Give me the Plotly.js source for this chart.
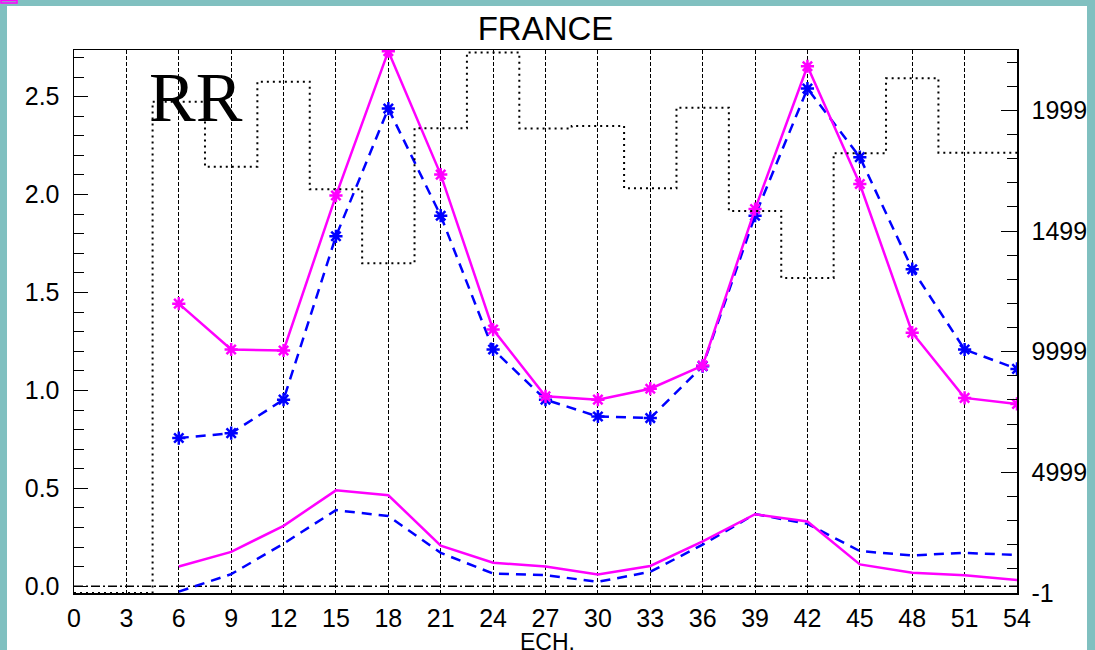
<!DOCTYPE html>
<html>
<head>
<meta charset="utf-8">
<script src="https://cdn.plot.ly/plotly-3.0.1.min.js"></script>
<style>html,body{margin:0;padding:0;background:#fff;}#chart{width:1095px;height:650px;}</style>
</head>
<body>
<div id="chart"></div>
<script>
// ---- data ----
const hours = [6, 9, 12, 15, 18, 21, 24, 27, 30, 33, 36, 39, 42, 45, 48, 51, 54];
const pinkUpper = [1.443, 1.209, 1.204, 1.995, 2.732, 2.102, 1.311, 0.970, 0.953, 1.009, 1.127, 1.926, 2.655, 2.054, 1.295, 0.962, 0.931];
const blueUpper = [0.757, 0.782, 0.953, 1.787, 2.439, 1.892, 1.209, 0.953, 0.867, 0.859, 1.124, 1.892, 2.541, 2.191, 1.619, 1.209, 1.110];
const pinkLower = [0.101, 0.176, 0.309, 0.490, 0.465, 0.208, 0.121, 0.101, 0.060, 0.104, 0.230, 0.368, 0.331, 0.112, 0.070, 0.057, 0.032];
const blueLower = [-0.027, 0.062, 0.218, 0.389, 0.359, 0.171, 0.065, 0.057, 0.023, 0.074, 0.213, 0.369, 0.319, 0.180, 0.158, 0.171, 0.160];
const countHours = [0, 3, 6, 9, 12, 15, 18, 21, 24, 27, 30, 33, 36, 39, 42, 45, 48, 51, 54];
const counts = [0, 0, 20358, 17667, 21186, 16731, 13666, 19257, 22400, 19250, 19350, 16772, 20110, 15832, 13057, 18221, 21327, 18246, 18246];
const zeroX = [0, 54];
const zeroY = [0, 0];
const xTicks = [0, 3, 6, 9, 12, 15, 18, 21, 24, 27, 30, 33, 36, 39, 42, 45, 48, 51, 54];
const rightTickVals = [-1, 4999, 9999, 14999, 19999];
const rightTickLabels = ['-1', '4999', '9999', '14999', '19999'];
const titleText = 'FRANCE';
const xTitle = 'ECH.';
const legendText = 'RR';

const PINK = '#ff00ff', BLUE = '#0000ff', TEAL = '#80c0c0';
const FONT = 'Liberation Sans, Arial, sans-serif';
const TICKSIZE = 25;

const traces = [
  {x: countHours, y: counts, yaxis: 'y2', mode: 'lines', line: {shape: 'hvh', color: '#000', width: 2, dash: '2px,4px'}, hoverinfo: 'skip'},
  {x: zeroX, y: zeroY, mode: 'lines', line: {color: '#000', width: 1.5, dash: '9px,3px,2px,3px'}, hoverinfo: 'skip'},
  {x: hours, y: blueLower, mode: 'lines', line: {color: BLUE, width: 2.5, dash: '10px,7px'}},
  {x: hours, y: pinkLower, mode: 'lines', line: {color: PINK, width: 2.5}},
  {x: hours, y: blueUpper, mode: 'lines+markers', line: {color: BLUE, width: 2.5, dash: '10px,7px'},
   marker: {symbol: 'asterisk-open', size: 11, line: {color: BLUE, width: 2.5}}},
  {x: hours, y: pinkUpper, mode: 'lines+markers', line: {color: PINK, width: 2.5},
   marker: {symbol: 'asterisk-open', size: 11, line: {color: PINK, width: 2.5}}}
];

const layout = {
  width: 1095, height: 650,
  margin: {l: 74, r: 78, t: 50, b: 57},
  paper_bgcolor: '#fff', plot_bgcolor: '#fff',
  showlegend: false,
  font: {family: FONT, size: TICKSIZE, color: '#000'},
  title: {text: titleText, font: {family: FONT, size: 33, color: '#000'}, x: 0.5, xref: 'paper', xanchor: 'center', y: 0.956, yref: 'container', yanchor: 'middle'},
  xaxis: {
    range: [0, 54], tickmode: 'array', tickvals: xTicks,
    showgrid: true, gridcolor: '#000', gridwidth: 1, griddash: '4px,2px',
    zeroline: false, showline: true, linecolor: '#000', linewidth: 1.5, mirror: true,
    ticks: '', ticklabelstandoff: 2,
    tickfont: {family: FONT, size: TICKSIZE, color: '#000'}
  },
  yaxis: {
    range: [-0.034, 2.738], tickmode: 'linear', tick0: 0, dtick: 0.5, tickformat: '.1f',
    showgrid: false, zeroline: false, showline: true, linecolor: '#000', linewidth: 1.5,
    ticks: 'inside', ticklen: 14, tickwidth: 1, tickcolor: '#000', ticklabelstandoff: 8,
    minor: {tickmode: 'linear', tick0: 0, dtick: 0.1, ticks: 'inside', ticklen: 10, tickcolor: '#000', showgrid: false},
    tickfont: {family: FONT, size: TICKSIZE, color: '#000'}
  },
  yaxis2: {
    overlaying: 'y', side: 'right', range: [-1, 22500],
    tickmode: 'array', tickvals: rightTickVals, ticktext: rightTickLabels,
    showgrid: false, zeroline: false, showline: true, linecolor: '#000', linewidth: 1.5,
    ticks: 'inside', ticklen: 16, tickwidth: 1, tickcolor: '#000', ticklabelstandoff: 8,
    minor: {tickmode: 'linear', tick0: -1, dtick: 1000, ticks: 'inside', ticklen: 10, tickcolor: '#000', showgrid: false},
    tickfont: {family: FONT, size: TICKSIZE, color: '#000'}
  },
  annotations: [
    {text: legendText, xref: 'paper', yref: 'paper', x: 0.1294, y: 0.912, xanchor: 'center', yanchor: 'middle',
     showarrow: false, font: {family: 'Liberation Serif, Times New Roman, serif', size: 70, color: '#000'}},
    {text: xTitle, xref: 'paper', yref: 'paper', x: 0.5025, y: (593 - 642) / 543, xanchor: 'center', yanchor: 'middle',
     showarrow: false, font: {family: FONT, size: 23, color: '#000'}}
  ],
  shapes: [
    // teal frame around the white page
    {type: 'rect', xref: 'paper', yref: 'paper', x0: -0.2, x1: (7 - 74) / 943, y0: -0.3, y1: 1.3, fillcolor: TEAL, line: {width: 0}, layer: 'above'},
    {type: 'rect', xref: 'paper', yref: 'paper', x0: (1087 - 74) / 943, x1: 1.2, y0: -0.3, y1: 1.3, fillcolor: TEAL, line: {width: 0}, layer: 'above'},
    {type: 'rect', xref: 'paper', yref: 'paper', x0: -0.2, x1: 1.2, y0: (593 - 6) / 543, y1: 1.3, fillcolor: TEAL, line: {width: 0}, layer: 'above'},
    {type: 'rect', xref: 'paper', yref: 'paper', x0: (1 - 74) / 943, x1: (17 - 74) / 943, y0: (593 - 3) / 543, y1: (593 - 0.5) / 543, fillcolor: 'rgba(0,0,0,0)', line: {width: 1.5, color: PINK}, layer: 'above'}
  ]
};

Plotly.newPlot('chart', traces, layout, {staticPlot: true, displayModeBar: false});
</script>
</body>
</html>
